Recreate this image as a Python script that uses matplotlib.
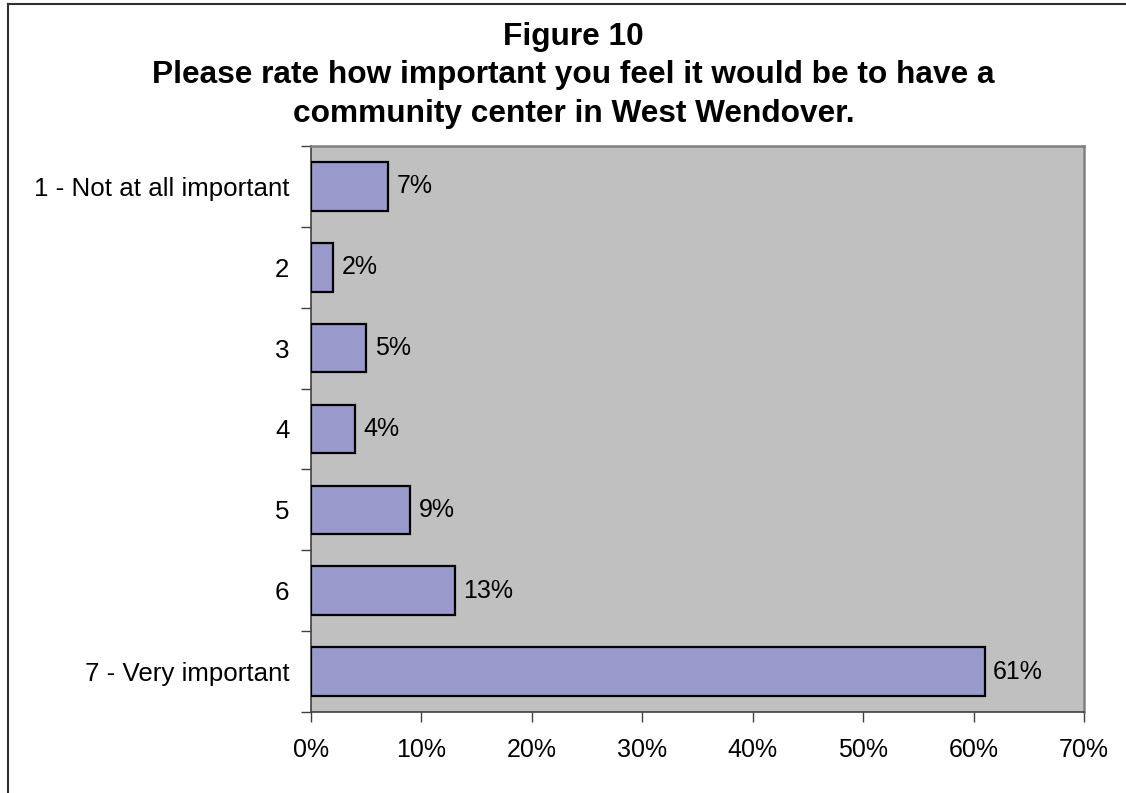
import matplotlib.pyplot as plt
from matplotlib.lines import Line2D
import numpy as np

plt.rcParams['font.family'] = ['Liberation Sans', 'DejaVu Sans']

# Survey responses (share of respondents)
categories = ['1 - Not at all important', '2', '3', '4', '5', '6', '7 - Very important']
shares = [7, 2, 5, 4, 9, 13, 61]
xticks = [0, 10, 20, 30, 40, 50, 60, 70]

title = ('Figure 10\nPlease rate how important you feel it would be to have a\n'
         'community center in West Wendover.')

fig = plt.figure(figsize=(11.26, 7.93), dpi=100)
ax = fig.add_axes([311 / 1126, 1 - 712 / 793, (1084 - 311) / 1126, (712 - 146) / 793])
ax.set_facecolor('#C0C0C0')

y = np.arange(len(categories))
ax.barh(y, shares, height=0.6, color='#9999CC', edgecolor='black', linewidth=1.6, zorder=3)
for yi, v in zip(y, shares):
    ax.annotate(f'{v}%', (v, yi), xytext=(6, 0), textcoords='offset points',
                va='center', ha='left', fontsize=18)

ax.set_xlim(0, 70)
ax.set_ylim(len(categories) - 0.5, -0.5)
ax.set_xticks(xticks)
ax.set_xticklabels([f'{t}%' for t in xticks], fontsize=18)
ax.set_yticks(y)
ax.set_yticklabels(categories, fontsize=18.6)
ax.set_yticks(np.arange(len(categories) + 1) - 0.5, minor=True)

ax.tick_params(axis='y', which='major', length=0, pad=15.5)
ax.tick_params(axis='y', which='minor', length=7, width=1, color='#404040', direction='out')
ax.tick_params(axis='x', which='major', length=7, width=1, color='#404040', direction='out', pad=12)

for side in ('left', 'bottom'):
    ax.spines[side].set_color('#404040')
    ax.spines[side].set_linewidth(1.2)
for side in ('top', 'right'):
    ax.spines[side].set_color('#808080')
    ax.spines[side].set_linewidth(1.8)

fig.text(0.5095, 1 - 22 / 793, title, ha='center', va='top', fontsize=22.8,
         fontweight='bold', linespacing=1.36)

# frame lines around the chart area (left and top)
fig.add_artist(Line2D([8 / 1126, 8 / 1126], [0, 1 - 4 / 793], color='#303030', linewidth=1.5))
fig.add_artist(Line2D([8 / 1126, 1], [1 - 4 / 793, 1 - 4 / 793], color='#303030', linewidth=1.5))

fig.savefig('out.png', dpi=100)
